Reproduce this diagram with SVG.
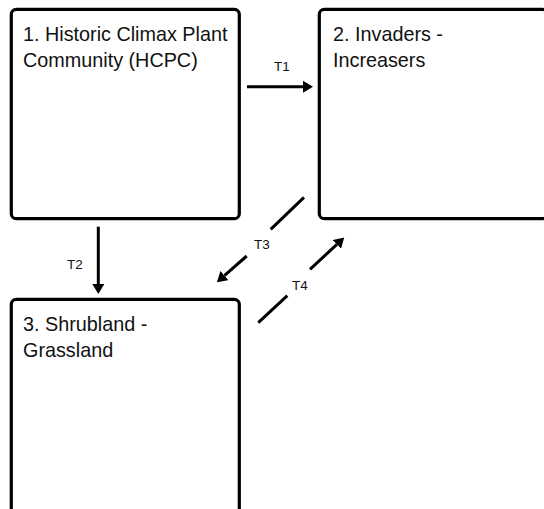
<svg xmlns="http://www.w3.org/2000/svg" width="544" height="509" viewBox="0 0 544 509">
<style>
.box{fill:#ffffff;stroke:#000000;stroke-width:3.2}
.lbl{font-family:"Liberation Sans",Arial,sans-serif;font-size:19.8px;fill:#111111}
.tl{font-family:"Liberation Sans",Arial,sans-serif;font-size:13.5px;fill:#111111;text-anchor:middle}
.con{stroke:#000000;stroke-width:3;fill:none}
</style>
<defs>
<marker id="ah" markerUnits="userSpaceOnUse" markerWidth="10" markerHeight="12" viewBox="0 0 10 12" refX="0" refY="6" orient="auto">
<path d="M0,0 L10,6 L0,12 Z" fill="#000000"/>
</marker>
</defs>
<rect width="544" height="509" fill="#ffffff"/>
<g id="node1">
<rect class="box" x="11.3" y="9.3" width="228" height="209.4" rx="5"/>
<text class="lbl" x="23" y="41">1. Historic Climax Plant</text>
<text class="lbl" x="23" y="67">Community (HCPC)</text>
</g>
<g id="node2">
<rect class="box" x="319.3" y="9.3" width="228" height="209.4" rx="5"/>
<text class="lbl" x="333" y="41">2. Invaders -</text>
<text class="lbl" x="333" y="67">Increasers</text>
</g>
<g id="node3">
<rect class="box" x="11.3" y="299.3" width="228" height="215" rx="5"/>
<text class="lbl" x="23" y="331">3. Shrubland -</text>
<text class="lbl" x="23" y="357">Grassland</text>
</g>
<g id="connectors">
<line class="con" x1="247" y1="86.7" x2="303" y2="86.7" marker-end="url(#ah)"/>
<text class="tl" x="282" y="71">T1</text>
<line class="con" x1="98.3" y1="226.7" x2="98.3" y2="284" marker-end="url(#ah)"/>
<text class="tl" x="75" y="269">T2</text>
<line class="con" x1="304" y1="197.3" x2="270.7" y2="229.3"/>
<line class="con" x1="246.7" y1="256" x2="224.4" y2="275.6" marker-end="url(#ah)"/>
<text class="tl" x="262" y="249">T3</text>
<line class="con" x1="258.3" y1="322.7" x2="287.3" y2="295.7"/>
<line class="con" x1="310" y1="269.3" x2="336.9" y2="244.4" marker-end="url(#ah)"/>
<text class="tl" x="300" y="289.5">T4</text>
</g>
</svg>
